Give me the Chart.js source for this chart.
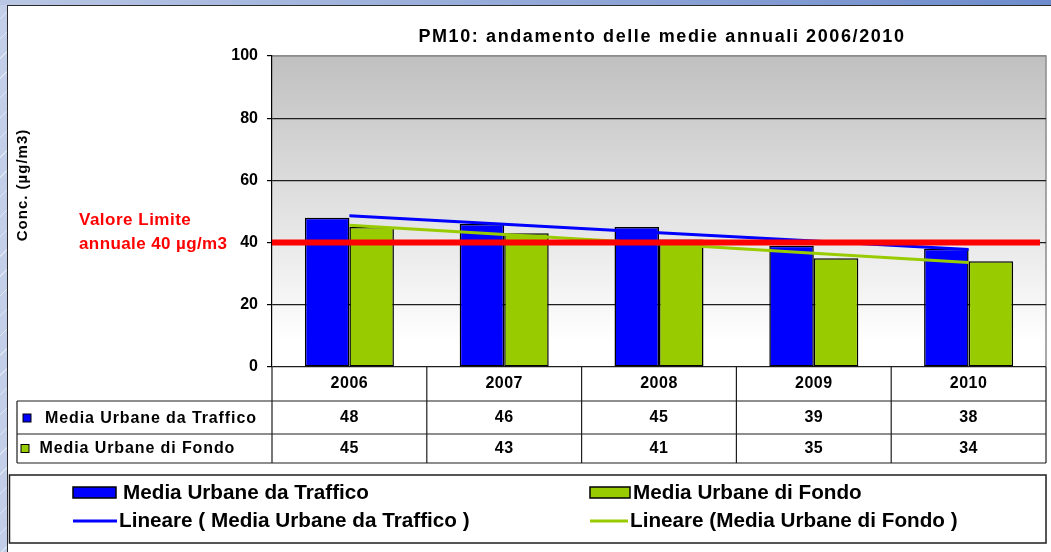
<!DOCTYPE html>
<html><head><meta charset="utf-8">
<script src="https://cdn.jsdelivr.net/npm/chart.js@4.4.0/dist/chart.umd.min.js"></script>
<style>
html,body{margin:0;padding:0;width:1051px;height:552px;overflow:hidden;}
body{position:relative;background-color:#c3cfe9;background-image:repeating-linear-gradient(135deg, rgba(255,255,255,0) 0px, rgba(255,255,255,0) 13px, rgba(255,255,255,0.45) 13px, rgba(255,255,255,0.45) 14px);}
#top{position:absolute;left:0;top:0;width:1051px;height:5px;background:linear-gradient(to right,#bac7e4,#6e8ccc);}
#panel{position:absolute;left:7px;top:5px;width:1060px;height:560px;background:#fff;border-left:1.5px solid #2a2a2a;border-top:1.5px solid #2a2a2a;}
canvas{position:absolute;left:0;top:0;}
</style></head>
<body><div id="top"></div><div id="panel"></div><canvas id="c" width="1051" height="552"></canvas>
<script>
const years = ['2006','2007','2008','2009','2010'];
const traffico = [48,46,45,39,38];
const fondo = [45,43,41,35,34];
const trendTraffico = [48.6,45.9,43.2,40.5,37.8];
const trendFondo = [45.6,42.6,39.6,36.6,33.6];
const limite = [40];
const yTicks = [0,20,40,60,80,100];
const seriesNames = ['Media Urbane da Traffico','Media Urbane di Fondo'];
const trendNames = ['Lineare ( Media Urbane da Traffico )','Lineare (Media Urbane di Fondo )'];
const titleText = 'PM10: andamento delle medie annuali 2006/2010';
const yTitle = 'Conc. (µg/m3)';
const limitLabel = ['Valore Limite','annuale 40 µg/m3'];

const BLUE = '#0000ff', GREEN = '#99cc00', RED = '#ff0000';
const FF = '"Liberation Sans", Arial, sans-serif';

function txt(ctx, s, x, y, size, opts) {
  opts = opts || {};
  ctx.save();
  ctx.font = 'bold ' + size + 'px ' + FF;
  ctx.fillStyle = opts.color || '#000';
  ctx.textAlign = opts.align || 'left';
  ctx.textBaseline = 'middle';
  ctx.letterSpacing = (opts.ls || 0) + 'px';
  if (opts.rot) { ctx.translate(x, y); ctx.rotate(opts.rot); ctx.fillText(s, 0, 0); }
  else ctx.fillText(s, x, y);
  ctx.restore();
}

const deco = {
  id: 'deco',
  beforeDraw(chart) {
    const {ctx, chartArea: a} = chart;
    const g = ctx.createLinearGradient(0, a.top, 0, a.bottom);
    g.addColorStop(0, '#c0c0c0');
    g.addColorStop(0.92, '#ffffff');
    g.addColorStop(1, '#ffffff');
    ctx.save();
    ctx.fillStyle = g;
    ctx.fillRect(a.left, a.top, a.right - a.left, a.bottom - a.top);
    ctx.strokeStyle = '#8c8c8c';
    ctx.lineWidth = 1.5;
    ctx.beginPath();
    ctx.moveTo(a.left, a.top); ctx.lineTo(a.right, a.top); ctx.lineTo(a.right, a.bottom);
    ctx.stroke();
    ctx.restore();
  },
  afterDatasetsDraw(chart) {
    const {ctx, chartArea: a, scales: {y}} = chart;
    const py = y.getPixelForValue(limite[0]);
    ctx.save();
    ctx.strokeStyle = RED; ctx.lineWidth = 6;
    ctx.beginPath(); ctx.moveTo(a.left, py); ctx.lineTo(a.right - 6, py); ctx.stroke();
    ctx.restore();
  },
  afterDraw(chart) {
    const {ctx, chartArea: a, scales: {x}} = chart;
    txt(ctx, titleText, 662, 37, 18, {align: 'center', ls: 1.6});
    txt(ctx, yTitle, 23, 185, 15, {align: 'center', ls: 1, rot: -Math.PI / 2});
    txt(ctx, limitLabel[0], 79, 220, 17, {color: RED, ls: 0.5});
    txt(ctx, limitLabel[1], 79, 244, 17, {color: RED, ls: 0.4});
    const n = years.length;
    const cw = (a.right - a.left) / n;
    const r0 = a.bottom, r1 = 401, r2 = 434, r3 = 463, tl = 17;
    ctx.save();
    ctx.strokeStyle = '#1e1e1e'; ctx.lineWidth = 1.2;
    ctx.beginPath();
    for (let i = 0; i <= n; i++) {
      const ex = (i < n ? x.getPixelForValue(i) - cw / 2 : x.getPixelForValue(n - 1) + cw / 2);
      ctx.moveTo(ex, r0); ctx.lineTo(ex, r3);
    }
    ctx.moveTo(tl, r1); ctx.lineTo(tl, r3);
    [r1, r2, r3].forEach(r => { ctx.moveTo(tl, r); ctx.lineTo(a.right, r); });
    ctx.stroke();
    ctx.restore();
    for (let i = 0; i < n; i++) {
      const cx = x.getPixelForValue(i);
      txt(ctx, years[i], cx, 383.5, 16, {align: 'center', ls: 0.5});
      txt(ctx, String(traffico[i]), cx, 418, 16, {align: 'center', ls: 0.5});
      txt(ctx, String(fondo[i]), cx, 448.5, 16, {align: 'center', ls: 0.5});
    }
    ctx.save();
    ctx.lineWidth = 1; ctx.strokeStyle = '#000';
    ctx.fillStyle = BLUE; ctx.fillRect(23, 414, 8, 8); ctx.strokeRect(23, 414, 8, 8);
    ctx.fillStyle = GREEN; ctx.fillRect(21, 444.5, 8, 8); ctx.strokeRect(21, 444.5, 8, 8);
    ctx.restore();
    txt(ctx, seriesNames[0], 45, 418.5, 16, {ls: 0.9});
    txt(ctx, seriesNames[1], 39.5, 449, 16, {ls: 0.9});
    ctx.save();
    ctx.strokeStyle = '#1e1e1e'; ctx.lineWidth = 1.5;
    ctx.strokeRect(9.5, 475, 1036.5, 68);
    ctx.lineWidth = 1.5; ctx.strokeStyle = '#000';
    ctx.fillStyle = BLUE; ctx.fillRect(73, 487, 43, 11); ctx.strokeRect(73, 487, 43, 11);
    ctx.fillStyle = GREEN; ctx.fillRect(590, 487, 40, 11); ctx.strokeRect(590, 487, 40, 11);
    ctx.lineWidth = 3;
    ctx.strokeStyle = BLUE; ctx.beginPath(); ctx.moveTo(73, 521); ctx.lineTo(117, 521); ctx.stroke();
    ctx.strokeStyle = GREEN; ctx.beginPath(); ctx.moveTo(590, 521); ctx.lineTo(628, 521); ctx.stroke();
    ctx.restore();
    txt(ctx, seriesNames[0], 123, 493, 20.7, {});
    txt(ctx, seriesNames[1], 633, 493, 20.7, {});
    txt(ctx, trendNames[0], 119, 521, 20.7, {});
    txt(ctx, trendNames[1], 630, 521, 20.7, {});
  }
};

new Chart(document.getElementById('c'), {
  data: {
    labels: years,
    datasets: [
      {type: 'line', label: trendNames[0], data: trendTraffico, borderColor: BLUE, borderWidth: 3, pointRadius: 0, tension: 0, order: 0},
      {type: 'line', label: trendNames[1], data: trendFondo, borderColor: GREEN, borderWidth: 3, pointRadius: 0, tension: 0, order: 0},
      {type: 'bar', label: seriesNames[0], data: traffico, backgroundColor: BLUE, borderColor: '#000', borderWidth: 1.5, borderSkipped: false, barPercentage: 1, categoryPercentage: 0.575, order: 1},
      {type: 'bar', label: seriesNames[1], data: fondo, backgroundColor: GREEN, borderColor: '#000', borderWidth: 1.5, borderSkipped: false, barPercentage: 1, categoryPercentage: 0.575, order: 1}
    ]
  },
  options: {
    responsive: false,
    animation: false,
    layout: {padding: {left: 0, right: 5, top: 56, bottom: 185}},
    plugins: {legend: {display: false}, title: {display: false}, tooltip: {enabled: false}},
    scales: {
      x: {type: 'category', display: false, offset: true},
      y: {
        min: yTicks[0], max: yTicks[yTicks.length - 1],
        afterBuildTicks(s) { s.ticks = yTicks.map(v => ({value: v})); },
        afterFit(s) { s.width = 272; },
        border: {display: true, color: '#000', width: 1.2},
        grid: {
          color: c => (c.tick && c.tick.value === 100) ? '#8c8c8c' : '#1e1e1e',
          tickColor: '#000', tickLength: 5, lineWidth: 1.2
        },
        ticks: {font: {family: FF, size: 16, weight: 'bold'}, color: '#000', padding: 9}
      }
    }
  },
  plugins: [deco]
});
</script>
</body></html>
